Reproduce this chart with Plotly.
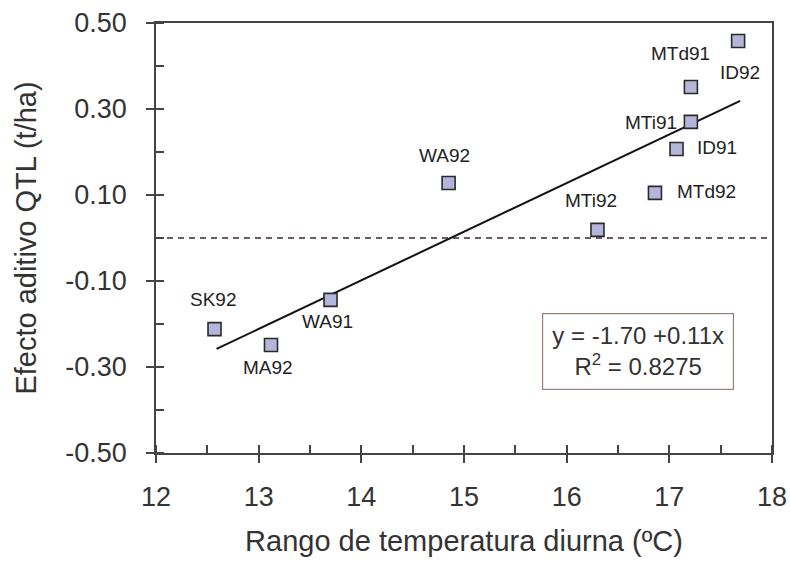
import plotly.graph_objects as go

# Data
sites = ["SK92", "MA92", "WA91", "WA92", "MTi92", "MTd92", "ID91", "MTi91", "MTd91", "ID92"]
temp_range = [12.57, 13.12, 13.70, 14.85, 16.30, 16.86, 17.07, 17.21, 17.21, 17.67]
qtl_effect = [-0.212, -0.249, -0.144, 0.128, 0.019, 0.105, 0.207, 0.270, 0.351, 0.458]
fit_x = [12.59, 17.69]
fit_y = [-0.258, 0.319]
ref_x = [12, 18]
ref_y = [0.0, 0.0]
x_ticks = [12, 13, 14, 15, 16, 17, 18]
x_labels = ["12", "13", "14", "15", "16", "17", "18"]
y_ticks = [-0.50, -0.30, -0.10, 0.10, 0.30, 0.50]
y_labels = ["-0.50", "-0.30", "-0.10", "0.10", "0.30", "0.50"]
equation_text = "y = -1.70 +0.11x<br>R<sup>2</sup> = 0.8275"

# label offsets in pixels (x, y up)
label_shift = {
    "SK92": (-2, 30), "MA92": (-3, -22), "WA91": (-3, -22), "WA92": (-4, 27),
    "MTi92": (-6, 29), "MTd92": (52, 1), "ID91": (40, 1), "MTi91": (-40, -1),
    "MTd91": (-10, 34), "ID92": (2, -31),
}

FONT = "Liberation Sans, Arial, sans-serif"
fig = go.Figure()

fig.add_trace(go.Scatter(x=ref_x, y=ref_y, mode="lines",
                         line=dict(color="#6b5e58", width=2, dash="6px,5px"),
                         hoverinfo="skip", showlegend=False))
fig.add_trace(go.Scatter(x=fit_x, y=fit_y, mode="lines",
                         line=dict(color="#111111", width=2),
                         hoverinfo="skip", showlegend=False))
fig.add_trace(go.Scatter(x=temp_range, y=qtl_effect, mode="markers",
                         marker=dict(symbol="square", size=13, color="#b3b6da",
                                     line=dict(color="#2a2a2a", width=1.6)),
                         text=sites, showlegend=False))

for s, xv, yv in zip(sites, temp_range, qtl_effect):
    dx, dy = label_shift[s]
    fig.add_annotation(x=xv, y=yv, xref="x", yref="y", text=s, showarrow=False,
                       xshift=dx, yshift=dy,
                       font=dict(family=FONT, size=19, color="#222222"))

fig.add_annotation(x=0.782, y=0.235, xref="paper", yref="paper", text=equation_text,
                   xanchor="center", yanchor="middle",
                   showarrow=False, align="center",
                   font=dict(family=FONT, size=24, color="#333333"),
                   bordercolor="#9a7f76", borderwidth=1.2, borderpad=8,
                   bgcolor="white", width=174)

axis_common = dict(showgrid=False, zeroline=False, linecolor="#444444", linewidth=1.5,
                   ticks="outside", tickcolor="#444444", tickwidth=1.5, ticklen=8,
                   automargin=False,
                   tickfont=dict(family=FONT, size=27, color="#333333"))

fig.update_layout(
    width=790, height=565,
    margin=dict(l=156, r=18, t=23, b=112),
    paper_bgcolor="white", plot_bgcolor="white",
    xaxis=dict(range=[12, 18], tickvals=x_ticks, ticktext=x_labels, mirror=True,
               minor=dict(dtick=0.5, ticks="inside", ticklen=8, tickcolor="#444444", tickwidth=1.5),
               title=dict(text="Rango de temperatura diurna (ºC)",
                          font=dict(family=FONT, size=29, color="#333333"), standoff=20),
               ticklabelstandoff=11,
               **axis_common),
    yaxis=dict(range=[-0.5, 0.5], tickvals=y_ticks, ticktext=y_labels, mirror=True,
               minor=dict(dtick=0.1, tick0=0, ticks="inside", ticklen=8, tickcolor="#444444", tickwidth=1.5),
               title=dict(text="Efecto aditivo QTL (t/ha)",
                          font=dict(family=FONT, size=29, color="#333333"), standoff=20),
               ticklabelstandoff=14,
               **axis_common),
    xaxis2=dict(range=[12, 18], overlaying="x", anchor="y", side="bottom",
                tickvals=x_ticks, ticks="inside", ticklen=8, tickcolor="#444444", tickwidth=1.5,
                showticklabels=False, showgrid=False, zeroline=False, showline=False),
    yaxis2=dict(range=[-0.5, 0.5], overlaying="y", anchor="x", side="left",
                tickvals=y_ticks, ticks="inside", ticklen=8, tickcolor="#444444", tickwidth=1.5,
                showticklabels=False, showgrid=False, zeroline=False, showline=False),
)

fig.write_html("out.html")
